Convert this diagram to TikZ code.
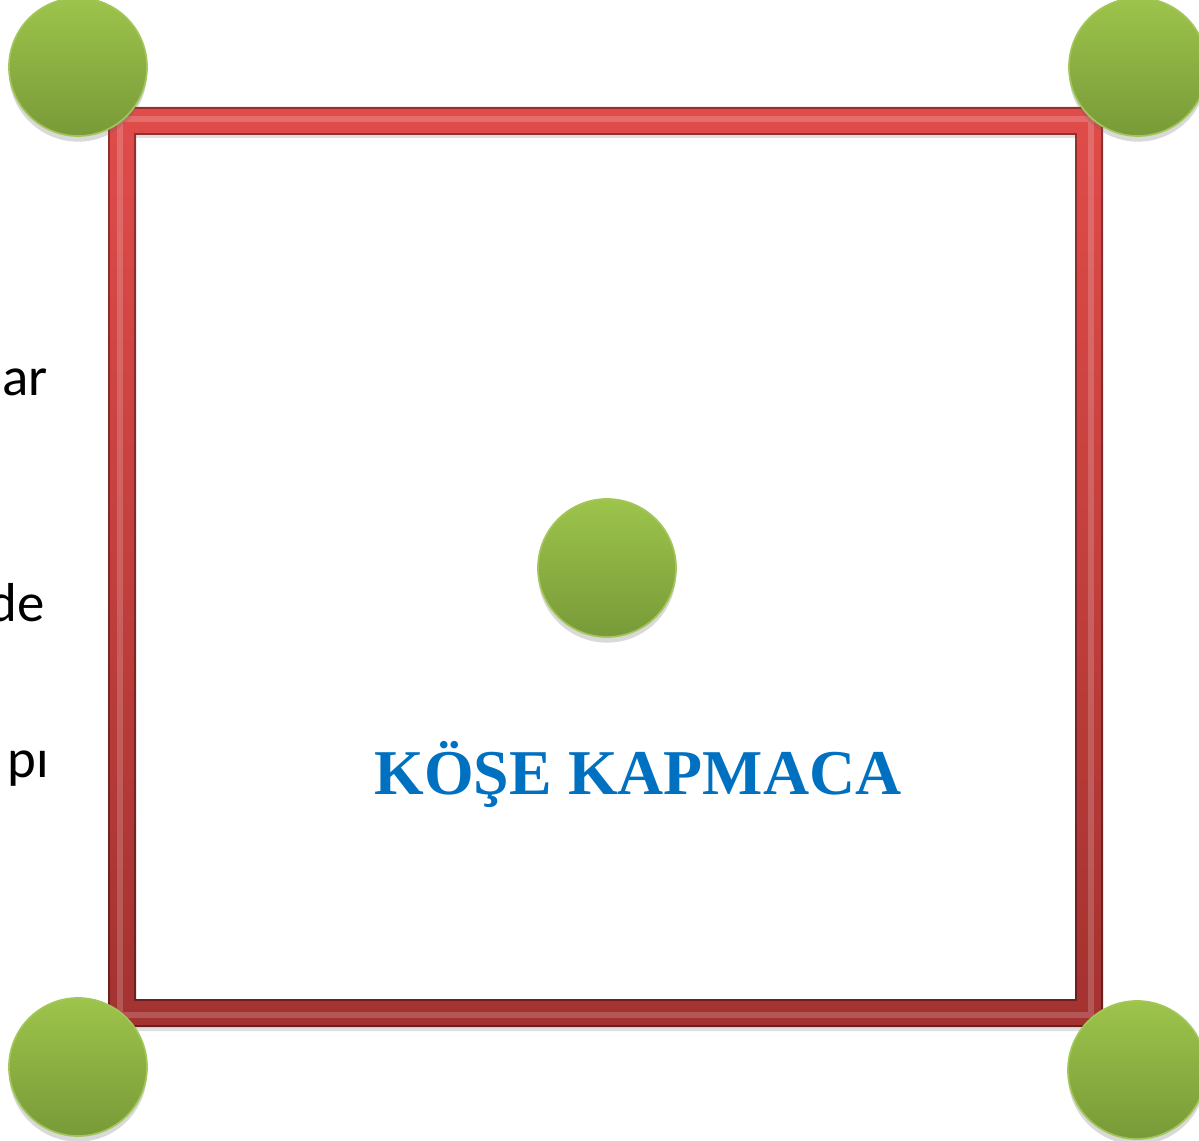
\documentclass[tikz,border=0pt]{standalone}
\usepackage{fontspec}
\newfontfamily\calibrifont{Carlito}
\newfontfamily\timesfont{Liberation Serif}
\usetikzlibrary{shadows}

\definecolor{balltop}{HTML}{9DC44B}
\definecolor{ballbot}{HTML}{789A38}
\definecolor{ballrim}{HTML}{A2C65A}
\definecolor{frametop}{HTML}{E04C4A}
\definecolor{framebot}{HTML}{A33230}
\definecolor{titleblue}{HTML}{0070C0}

\begin{document}
\begin{tikzpicture}[x=0.025cm,y=-0.025cm,
    ball/.style={circle, minimum size=3.45cm, inner sep=0pt,
        top color=balltop, bottom color=ballbot, draw=ballrim, line width=1.2pt,
        drop shadow={shadow xshift=0pt, shadow yshift=-4pt, opacity=0.25, fill=black!60}},
    side/.style={font=\calibrifont\fontsize{39}{45}\selectfont, anchor=base east, inner sep=0pt}]

    % sayfa
    \useasboundingbox (0,0) rectangle (1199,1141);

    % parametreler
    \pgfmathsetmacro{\L}{108}
    \pgfmathsetmacro{\R}{1103}
    \pgfmathsetmacro{\T}{107}
    \pgfmathsetmacro{\B}{1027}
    \pgfmathsetmacro{\w}{28}

    % kenarda kalan yazılar
    \node[side] (ar) at (48,396) {ar};
    \node[side] (de) at (45,622) {de};
    \node[side] (pi) at (49,778) {pı};

    % çerçeve
    \fill[black, opacity=0.12, even odd rule]
        (\L,\T+3) rectangle (\R,\B+4) (\L+\w,\T+\w+3) rectangle (\R-\w,\B-\w+4);
    \shade[even odd rule, top color=frametop, bottom color=framebot]
        (\L,\T) rectangle (\R,\B) (\L+\w,\T+\w) rectangle (\R-\w,\B-\w);
    \draw[white, opacity=0.18, line width=4pt, line join=miter]
        (\L+\w/2-2,\T+\w/2-2) rectangle (\R-\w/2+2,\B-\w/2+2);
    \draw[black, opacity=0.35, line width=1.2pt, line join=miter]
        (\L+1,\T+1) rectangle (\R-1,\B-1)
        (\L+\w-1,\T+\w-1) rectangle (\R-\w+1,\B-\w+1);

    % köşeler ve orta
    \node[ball] (tl) at (78,67) {};
    \node[ball] (tr) at (1138,67) {};
    \node[ball] (bl) at (78,1067) {};
    \node[ball] (br) at (1137,1070) {};
    \node[ball] (mid) at (607,568) {};

    % başlık
    \node[font=\timesfont\bfseries\fontsize{45.4}{52}\selectfont, text=titleblue, anchor=base]
        (title) at (638,794) {KÖŞE KAPMACA};

\end{tikzpicture}
\end{document}
